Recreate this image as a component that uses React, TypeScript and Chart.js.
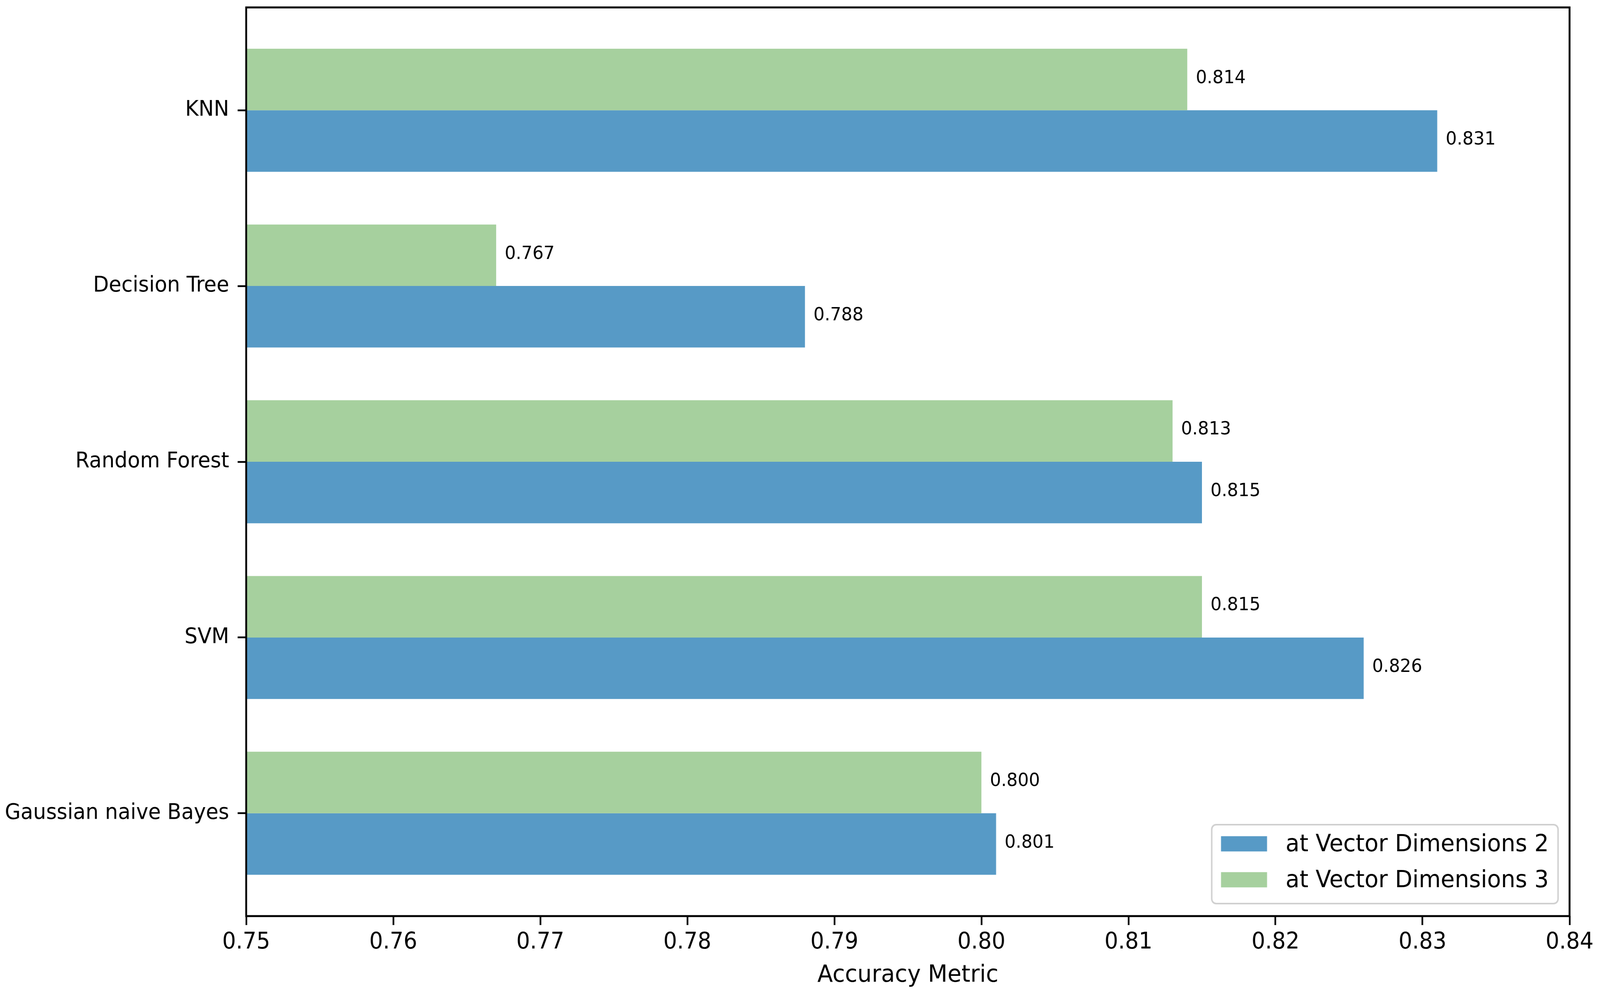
import React, { useRef, useEffect } from 'react';
import Chart from 'chart.js/auto';

const categories = ['KNN', 'Decision Tree', 'Random Forest', 'SVM', 'Gaussian naive Bayes'];
const dim2Values = [0.831, 0.788, 0.815, 0.826, 0.801];
const dim3Values = [0.814, 0.767, 0.813, 0.815, 0.8];
const seriesLabels = ['at Vector Dimensions 2', 'at Vector Dimensions 3'];
const xTickValues = [0.75, 0.76, 0.77, 0.78, 0.79, 0.8, 0.81, 0.82, 0.83, 0.84];

const BLUE = '#579AC6';
const GREEN = '#A6D09E';
const FONT = 'DejaVu Sans';

// drawing size; the canvas is stretched over the whole window
const W = 4309;
const H = 2547;

// value printed just past the end of each bar
const valueLabels = {
  id: 'valueLabels',
  afterDatasetsDraw(chart: any) {
    const ctx = chart.ctx;
    ctx.save();
    ctx.font = `47px "${FONT}"`;
    ctx.fillStyle = '#000';
    ctx.textAlign = 'left';
    ctx.textBaseline = 'middle';
    chart.data.datasets.forEach((ds: any, i: number) => {
      const meta = chart.getDatasetMeta(i);
      meta.data.forEach((bar: any, j: number) => {
        ctx.fillText(ds.data[j].x.toFixed(3), bar.x + 23, bar.y - 3);
      });
    });
    ctx.restore();
  },
};

// matplotlib style box around the plot
const frame = {
  id: 'frame',
  afterDatasetsDraw(chart: any) {
    const { ctx, chartArea: a } = chart;
    ctx.save();
    ctx.strokeStyle = '#000';
    ctx.lineWidth = 5;
    ctx.strokeRect(a.left, a.top, a.right - a.left, a.bottom - a.top);
    ctx.restore();
  },
};

// legend in the lower right corner, inside the axes
const innerLegend = {
  id: 'innerLegend',
  afterDraw(chart: any) {
    const { ctx, chartArea: a } = chart;
    const order = [1, 0]; // dims 2 first, like the original
    const pad = 25;
    const handleW = 124;
    const handleH = 39;
    const textGap = 50;
    const rowGap = 92;
    const boxH = 202;
    ctx.save();
    ctx.font = `61px "${FONT}"`;
    const textW = Math.max(...order.map((i) => ctx.measureText(chart.data.datasets[i].label).width));
    const boxW = pad + handleW + textGap + textW + pad;
    const x0 = a.right - 31 - boxW;
    const y0 = a.bottom - 32 - boxH;
    ctx.beginPath();
    ctx.roundRect(x0, y0, boxW, boxH, 12);
    ctx.fillStyle = 'rgba(255,255,255,0.8)';
    ctx.fill();
    ctx.strokeStyle = '#d0d0d0';
    ctx.lineWidth = 4;
    ctx.stroke();
    order.forEach((di, r) => {
      const ds = chart.data.datasets[di];
      const cy = y0 + 49 + r * rowGap;
      ctx.fillStyle = ds.backgroundColor;
      ctx.fillRect(x0 + pad, cy - handleH / 2, handleW, handleH);
      ctx.fillStyle = '#000';
      ctx.textAlign = 'left';
      ctx.textBaseline = 'middle';
      ctx.fillText(ds.label, x0 + pad + handleW + textGap, cy + 3);
    });
    ctx.restore();
  },
};

const tickGrid = {
  offset: false,
  drawOnChartArea: false,
  drawTicks: true,
  tickLength: 23,
  tickWidth: 4.5,
  tickColor: '#000',
};

const App: React.FC = () => {
  const canvasRef = useRef<HTMLCanvasElement>(null);

  useEffect(() => {
    if (!canvasRef.current) return;
    const ctx = canvasRef.current.getContext('2d');
    if (!ctx) return;

    const chart = new Chart(ctx, {
      type: 'bar',
      data: {
        datasets: [
          {
            label: seriesLabels[1],
            data: dim3Values.map((x, y) => ({ x, y })),
            backgroundColor: GREEN,
            borderWidth: 0,
            categoryPercentage: 0.7,
            barPercentage: 1,
          },
          {
            label: seriesLabels[0],
            data: dim2Values.map((x, y) => ({ x, y })),
            backgroundColor: BLUE,
            borderWidth: 0,
            categoryPercentage: 0.7,
            barPercentage: 1,
          },
        ],
      },
      options: {
        animation: false,
        responsive: false,
        devicePixelRatio: 1,
        indexAxis: 'y',
        layout: { padding: { top: 19, right: 82, left: 0, bottom: 0 } },
        plugins: {
          legend: { display: false },
          tooltip: { enabled: false },
        },
        scales: {
          x: {
            type: 'linear',
            position: 'bottom',
            min: 0.75,
            max: 0.84,
            afterBuildTicks: (s: any) => {
              s.ticks = xTickValues.map((value) => ({ value }));
            },
            afterFit: (s: any) => {
              s.height = 202;
              s.paddingLeft = 0;
              s.paddingRight = 0;
            },
            ticks: {
              callback: (v: any) => Number(v).toFixed(2),
              font: { family: FONT, size: 58 },
              color: '#000',
              padding: 10,
              maxRotation: 0,
              autoSkip: false,
            },
            grid: tickGrid,
            border: { display: false },
            title: {
              display: true,
              text: 'Accuracy Metric',
              font: { family: FONT, size: 61 },
              color: '#000',
              padding: { top: 0, bottom: 13 },
            },
          },
          y: {
            type: 'linear',
            offset: false,
            reverse: true,
            min: -0.585,
            max: categories.length - 1 + 0.585,
            afterBuildTicks: (s: any) => {
              s.ticks = categories.map((_, i) => ({ value: i }));
            },
            afterFit: (s: any) => {
              s.width = 663;
              s.paddingTop = 0;
              s.paddingBottom = 0;
            },
            ticks: {
              callback: (v: any) => categories[v] ?? '',
              font: { family: FONT, size: 55 },
              color: '#000',
              padding: 23,
              autoSkip: false,
            },
            grid: tickGrid,
            border: { display: false },
          },
        },
      } as any,
      plugins: [valueLabels, frame, innerLegend],
    });

    return () => {
      chart.destroy();
    };
  }, []);

  return (
    <div style={{ position: 'fixed', left: 0, top: 0, right: 0, bottom: 0, background: '#fff' }}>
      <canvas ref={canvasRef} width={W} height={H} style={{ display: 'block', width: '100%', height: '100%' }}></canvas>
    </div>
  );
};

export default App;
